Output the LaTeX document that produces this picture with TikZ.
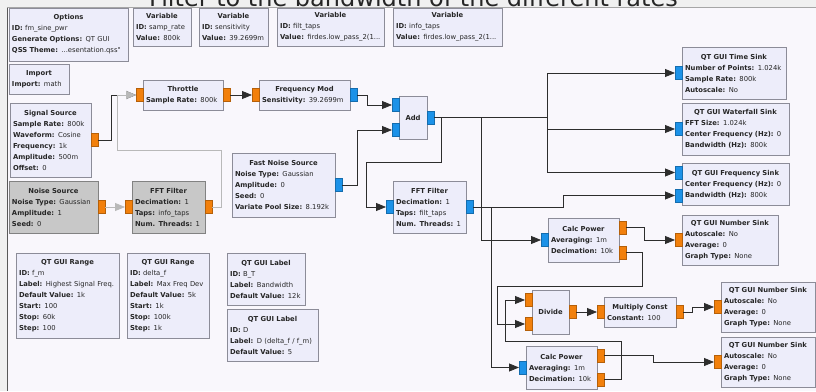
\documentclass[tikz,border=0pt]{standalone}
\usepackage{fontspec}
\usepackage{tikz}
\usetikzlibrary{arrows.meta}
\newfontfamily\grcfont{DejaVu Sans}
\definecolor{pagebg}{RGB}{240,240,240}
\definecolor{canvasbg}{RGB}{249,247,252}
\definecolor{blockfill}{RGB}{237,237,250}
\definecolor{blockline}{RGB}{140,140,152}
\definecolor{offfill}{RGB}{200,200,200}
\definecolor{offline}{RGB}{130,130,130}
\definecolor{portorange}{RGB}{242,128,12}
\definecolor{portblue}{RGB}{28,146,232}
\definecolor{wirecol}{RGB}{45,45,45}
\definecolor{offwirecol}{RGB}{185,185,185}

\begin{document}
\begin{tikzpicture}[x=1pt,y=-1pt,
    block/.style={draw=blockline,fill=blockfill,line width=0.7pt,anchor=north west,
      inner xsep=3pt,inner ysep=0pt,outer sep=0pt,align=left,
      font=\grcfont\fontsize{6.8}{11}\selectfont,text=black!85},
    offblock/.style={block,draw=offline,fill=offfill},
    oport/.style={draw=portorange!75!black,fill=portorange,line width=0.4pt,
      minimum width=7pt,minimum height=13pt,inner sep=0pt,outer sep=0pt},
    bport/.style={oport,draw=portblue!75!black,fill=portblue},
    wire/.style={draw=wirecol,line width=0.8pt,-{Triangle[length=10pt,width=8pt]}},
    offwire/.style={wire,draw=offwirecol}]
  \def\blkhead#1{\makebox[\linewidth]{\textbf{#1}}\\}
  \def\blkkey#1{\textbf{#1:}}
  \useasboundingbox (0,0) rectangle (816,391);
  \fill[pagebg] (0,0) rectangle (816,391);
  \fill[canvasbg] (7,7.5) rectangle (816,391);
  \draw[black!35,line width=0.8pt] (7,7.5) -- (816,7.5);
  \draw[black!65,line width=1pt] (7,7.5) -- (7,391);
  \begin{scope}
    \clip (0,0) rectangle (816,7);
    \node[anchor=base,inner sep=0pt,text=black!85,font=\grcfont\fontsize{24}{24}\selectfont]
      (title) at (413.5,6.5) {Filter to the bandwidth of the different rates};
  \end{scope}

  \node[block,minimum height=53pt,text width=113pt] (opts) at (9,8)
    {\blkhead{Options}\blkkey{ID} fm\_sine\_pwr\\\blkkey{Generate Options} QT GUI\\\blkkey{QSS Theme} ...esentation.qss"};
  \node[block,minimum height=38pt,text width=52pt] (vsr) at (133,8)
    {\blkhead{Variable}\blkkey{ID} samp\_rate\\\blkkey{Value} 800k};
  \node[block,minimum height=38pt,text width=63pt] (vsens) at (199,8)
    {\blkhead{Variable}\blkkey{ID} sensitivity\\\blkkey{Value} 39.2699m};
  \node[block,minimum height=38pt,text width=101pt] (vfilt) at (277,8)
    {\blkhead{Variable}\blkkey{ID} filt\_taps\\\blkkey{Value} firdes.low\_pass\_2(1...};
  \node[block,minimum height=38pt,text width=103pt] (vinfo) at (393,8)
    {\blkhead{Variable}\blkkey{ID} info\_taps\\\blkkey{Value} firdes.low\_pass\_2(1...};
  \node[block,minimum height=30pt,text width=54pt] (imp) at (9,64)
    {\blkhead{Import}\blkkey{Import} math};
  \node[block,minimum height=30pt,text width=74pt] (thr) at (143,80)
    {\blkhead{Throttle}\blkkey{Sample Rate} 800k};
  \node[block,minimum height=30pt,text width=85pt] (fm) at (259,80)
    {\blkhead{Frequency Mod}\blkkey{Sensitivity} 39.2699m};
  \node[block,minimum height=74pt,text width=75pt] (sig) at (10,103)
    {\blkhead{Signal Source}\blkkey{Sample Rate} 800k\\\blkkey{Waveform} Cosine\\\blkkey{Frequency} 1k\\\blkkey{Amplitude} 500m\\\blkkey{Offset} 0};
  \node[offblock,minimum height=52pt,text width=83pt] (noi) at (9,181)
    {\blkhead{Noise Source}\blkkey{Noise Type} Gaussian\\\blkkey{Amplitude} 1\\\blkkey{Seed} 0};
  \node[offblock,minimum height=52pt,text width=67pt] (fft1) at (132,181)
    {\blkhead{FFT Filter}\blkkey{Decimation} 1\\\blkkey{Taps} info\_taps\\\blkkey{Num. Threads} 1};
  \node[block,minimum height=64pt,text width=97pt] (fns) at (232,153)
    {\blkhead{Fast Noise Source}\blkkey{Noise Type} Gaussian\\\blkkey{Amplitude} 0\\\blkkey{Seed} 0\\\blkkey{Variate Pool Size} 8.192k};
  \node[block,minimum width=28pt,minimum height=43pt] (add) at (399,96) {\textbf{Add}};
  \node[block,minimum height=52pt,text width=67pt] (fft2) at (393,181)
    {\blkhead{FFT Filter}\blkkey{Decimation} 1\\\blkkey{Taps} filt\_taps\\\blkkey{Num. Threads} 1};
  \node[block,minimum height=52pt,text width=98pt] (tsink) at (682,47)
    {\blkhead{QT GUI Time Sink}\blkkey{Number of Points} 1.024k\\\blkkey{Sample Rate} 800k\\\blkkey{Autoscale} No};
  \node[block,minimum height=52pt,text width=101pt] (wf) at (682,103)
    {\blkhead{QT GUI Waterfall Sink}\blkkey{FFT Size} 1.024k\\\blkkey{Center Frequency (Hz)} 0\\\blkkey{Bandwidth (Hz)} 800k};
  \node[block,minimum height=42pt,text width=101pt] (fs) at (682,163)
    {\blkhead{QT GUI Frequency Sink}\blkkey{Center Frequency (Hz)} 0\\\blkkey{Bandwidth (Hz)} 800k};
  \node[block,minimum height=44pt,text width=65pt] (cp1) at (548,218)
    {\blkhead{Calc Power}\blkkey{Averaging} 1m\\\blkkey{Decimation} 10k};
  \node[block,minimum height=50pt,text width=90pt] (ns1) at (682,215)
    {\blkhead{QT GUI Number Sink}\blkkey{Autoscale} No\\\blkkey{Average} 0\\\blkkey{Graph Type} None};
  \node[block,minimum width=37pt,minimum height=44pt] (div) at (532,290) {\textbf{Divide}};
  \node[block,minimum height=30pt,text width=66pt] (mc) at (604,297)
    {\blkhead{Multiply Const}\blkkey{Constant} 100};
  \node[block,minimum height=50pt,text width=88pt] (ns2) at (721,282)
    {\blkhead{QT GUI Number Sink}\blkkey{Autoscale} No\\\blkkey{Average} 0\\\blkkey{Graph Type} None};
  \node[block,minimum height=43pt,text width=65pt] (cp2) at (526,346)
    {\blkhead{Calc Power}\blkkey{Averaging} 1m\\\blkkey{Decimation} 10k};
  \node[block,minimum height=50pt,text width=88pt] (ns3) at (721,337)
    {\blkhead{QT GUI Number Sink}\blkkey{Autoscale} No\\\blkkey{Average} 0\\\blkkey{Graph Type} None};
  \node[block,minimum height=85pt,text width=97pt] (rfm) at (16,253)
    {\blkhead{QT GUI Range}\blkkey{ID} f\_m\\\blkkey{Label} Highest Signal Freq.\\\blkkey{Default Value} 1k\\\blkkey{Start} 100\\\blkkey{Stop} 60k\\\blkkey{Step} 100};
  \node[block,minimum height=85pt,text width=76pt] (rdf) at (127,253)
    {\blkhead{QT GUI Range}\blkkey{ID} delta\_f\\\blkkey{Label} Max Freq Dev\\\blkkey{Default Value} 5k\\\blkkey{Start} 1k\\\blkkey{Stop} 100k\\\blkkey{Step} 1k};
  \node[block,minimum height=52pt,text width=72pt] (lbt) at (227,253)
    {\blkhead{QT GUI Label}\blkkey{ID} B\_T\\\blkkey{Label} Bandwidth\\\blkkey{Default Value} 12k};
  \node[block,minimum height=52pt,text width=85pt] (ld) at (227,309)
    {\blkhead{QT GUI Label}\blkkey{ID} D\\\blkkey{Label} D (delta\_f / f\_m)\\\blkkey{Default Value} 5};

  \node[oport,anchor=west] (sigo) at (sig.east) {};
  \node[oport,anchor=east] (thri) at (thr.west) {};
  \node[oport,anchor=west] (thro) at (thr.east) {};
  \node[oport,anchor=east] (fmi) at (fm.west) {};
  \node[bport,anchor=west] (fmo) at (fm.east) {};
  \node[oport,anchor=west] (noio) at (noi.east) {};
  \node[oport,anchor=east] (fft1i) at (fft1.west) {};
  \node[oport,anchor=west] (fft1o) at (fft1.east) {};
  \node[bport,anchor=west] (fnso) at (fns.east) {};
  \node[bport,anchor=east] (addi1) at ([yshift=12.5pt]add.west) {};
  \node[bport,anchor=east] (addi2) at ([yshift=-12.5pt]add.west) {};
  \node[bport,anchor=west] (addo) at (add.east) {};
  \node[bport,anchor=east] (fft2i) at (fft2.west) {};
  \node[bport,anchor=west] (fft2o) at (fft2.east) {};
  \node[bport,anchor=east] (tsi) at (tsink.west) {};
  \node[bport,anchor=east] (wfi) at (wf.west) {};
  \node[bport,anchor=east] (fsi1) at ([yshift=11.5pt]fs.west) {};
  \node[bport,anchor=east] (fsi2) at ([yshift=-11.5pt]fs.west) {};
  \node[bport,anchor=east] (cp1i) at (cp1.west) {};
  \node[oport,anchor=west] (cp1o1) at ([yshift=12.5pt]cp1.east) {};
  \node[oport,anchor=west] (cp1o2) at ([yshift=-12.5pt]cp1.east) {};
  \node[oport,anchor=east] (ns1i) at (ns1.west) {};
  \node[oport,anchor=east] (divi1) at ([yshift=12pt]div.west) {};
  \node[oport,anchor=east] (divi2) at ([yshift=-12pt]div.west) {};
  \node[oport,anchor=west] (divo) at (div.east) {};
  \node[oport,anchor=east] (mci) at (mc.west) {};
  \node[oport,anchor=west] (mco) at (mc.east) {};
  \node[oport,anchor=east] (ns2i) at (ns2.west) {};
  \node[bport,anchor=east] (cp2i) at (cp2.west) {};
  \node[oport,anchor=west] (cp2o1) at ([yshift=12pt]cp2.east) {};
  \node[oport,anchor=west] (cp2o2) at ([yshift=-12pt]cp2.east) {};
  \node[oport,anchor=east] (ns3i) at (ns3.west) {};

  \draw[wire] (sigo.east) -- ++(13,0) |- (thri.west);
  \draw[offwire] (fft1o.east) -- ++(9,0) |- (117,150) |- (thri.west);
  \draw[offwire] (noio.east) -- (fft1i.west);
  \draw[wire] (thro.east) -- (fmi.west);
  \draw[wire] (fmo.east) -- ++(10,0) |- (addi1.west);
  \draw[wire] (fnso.east) -- ++(15,0) |- (addi2.west);
  \draw[wire] (addo.east) -- ++(113,0) |- (tsi.west);
  \draw[wire] (addo.east) -- ++(113,0) |- (wfi.west);
  \draw[wire] (addo.east) -- ++(113,0) |- (fsi1.west);
  \draw[wire] (addo.east) -- ++(47,0) |- (cp1i.west);
  \draw[wire] (addo.east) -- ++(7,0) -- ++(0,45) -- ++(-75,0) |- (fft2i.west);
  \draw[wire] (fft2o.east) -- ++(90,0) |- (fsi2.west);
  \draw[wire] (fft2o.east) -- ++(18,0) |- (cp2i.west);
  \draw[wire] (cp1o1.east) -- ++(18,0) |- (ns1i.west);
  \draw[wire] (cp1o2.east) -- ++(16,0) |- (497,286) |- (divi2.west);
  \draw[wire] (cp2o2.east) -- ++(17,0) |- (505,341) |- (divi1.west);
  \draw[wire] (divo.east) -- (mci.west);
  \draw[wire] (mco.east) -- ++(9,0) |- (ns2i.west);
  \draw[wire] (cp2o1.east) -- ++(49,0) |- (ns3i.west);
\end{tikzpicture}
\end{document}
